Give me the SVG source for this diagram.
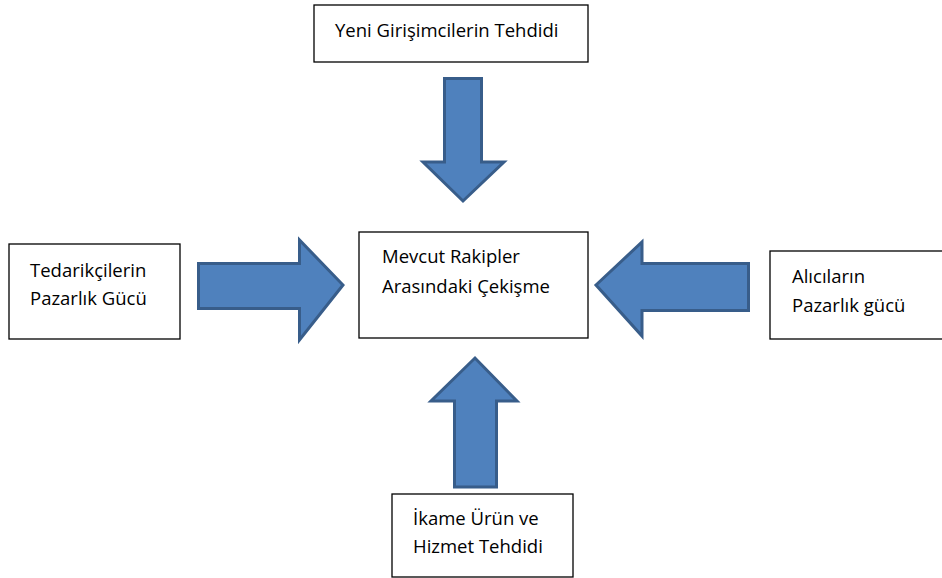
<svg xmlns="http://www.w3.org/2000/svg" width="942" height="578" viewBox="0 0 942 578">
<style>
.box{fill:#fff;stroke:#000;stroke-width:1.3}
.t{font-family:"Open Sans","Liberation Sans",sans-serif;font-size:18.5px;fill:#000}
.arr{fill:#4f81bd;stroke:#385d8a;stroke-width:3;stroke-linejoin:miter}
</style>
<rect width="942" height="578" fill="#fff"/>
<g id="connectors">
<polygon class="arr" points="444.5,78.5 481.5,78.5 481.5,162 504,162 463,201 423,162 444.5,162"/>
<polygon class="arr" points="198.5,263.5 299.5,263.5 299.5,240 343,285 299.5,340 299.5,308.5 198.5,308.5"/>
<polygon class="arr" points="748.5,263.5 642,263.5 642,242 596,285 642,336 642,310.5 748.5,310.5"/>
<polygon class="arr" points="454.5,487 496.5,487 496.5,401 517,401 475,358 431,401 454.5,401"/>
</g>
<g id="top"><rect class="box" x="314" y="5" width="274" height="57"/><text class="t" x="335" y="37">Yeni Girişimcilerin Tehdidi</text></g>
<g id="left"><rect class="box" x="9" y="244" width="171" height="95"/><text class="t" x="30" y="277">Tedarikçilerin</text><text class="t" x="30" y="305">Pazarlık Gücü</text></g>
<g id="center"><rect class="box" x="359" y="232" width="229" height="106"/><text class="t" x="382" y="263">Mevcut Rakipler</text><text class="t" x="382" y="293">Arasındaki Çekişme</text></g>
<g id="right"><rect class="box" x="770" y="251" width="180" height="88"/><text class="t" x="792" y="283">Alıcıların</text><text class="t" x="792" y="312">Pazarlık gücü</text></g>
<g id="bottom"><rect class="box" x="392" y="494" width="181" height="83"/><text class="t" x="413" y="525">İkame Ürün ve</text><text class="t" x="413" y="553">Hizmet Tehdidi</text></g>
</svg>
